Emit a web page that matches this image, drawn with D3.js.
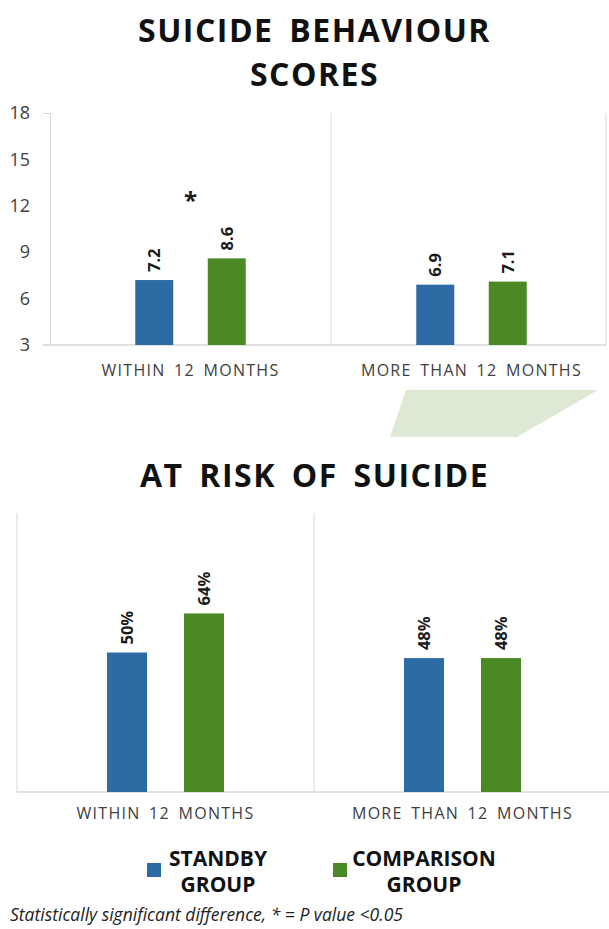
<!DOCTYPE html>
<html>
<head>
<meta charset="utf-8">
<script src="https://cdn.jsdelivr.net/npm/d3@7"></script>
<style>
  html, body { margin: 0; padding: 0; background: #ffffff; }
  svg { display: block; }
</style>
</head>
<body>
<svg id="chart" width="609" height="929"></svg>
<script>
// Periods compared and the two groups
const periods = ["WITHIN 12 MONTHS", "MORE THAN 12 MONTHS"];
const groups = ["STANDBY", "COMPARISON"];
const groupColors = ["#2e6ba5", "#4a8924"];

// Suicide behaviour scores by period
const scoreStandby = [7.2, 6.9];
const scoreComparison = [8.6, 7.1];
const scoreSignificant = [true, false];
const scoreTicks = [3, 6, 9, 12, 15, 18];

// Share at risk of suicide (%) by period
const riskStandby = [50, 48];
const riskComparison = [64, 48];

const svg = d3.select("#chart");
const W = 609;
const titleFont = "'Open Sans', 'Noto Sans', sans-serif";
const axisGrey = "#d9d9d9";
const labelColor = "#404040";

function title(lines, y0, lineH) {
  const t = svg.append("text")
    .attr("text-anchor", "middle")
    .attr("font-family", titleFont)
    .attr("font-weight", 700)
    .attr("font-size", 32)
    .attr("letter-spacing", 1.5)
    .attr("word-spacing", 6)
    .attr("fill", "#111");
  lines.forEach((l, i) => t.append("tspan").attr("x", W / 2 + 10).attr("y", y0 + i * lineH).text(l));
}

function valueLabels(g, data, x, xs, y, fmt) {
  g.selectAll(null).data(data).join("text")
    .attr("transform", d => `translate(${x(d.period) + xs(d.group) + xs.bandwidth() / 2},${y(d.value) - 8}) rotate(-90)`)
    .attr("dy", "0.36em")
    .attr("text-anchor", "start")
    .attr("font-family", titleFont)
    .attr("font-weight", 700)
    .attr("font-size", 16.5)
    .attr("fill", "#1a1a1a")
    .text(d => fmt(d.value));
}

function bars(g, data, x, xs, y) {
  g.selectAll(null).data(data).join("rect")
    .attr("x", d => x(d.period) + xs(d.group))
    .attr("width", xs.bandwidth())
    .attr("y", d => y(d.value))
    .attr("height", d => y.range()[0] - y(d.value))
    .attr("fill", d => groupColors[groups.indexOf(d.group)]);
}

function categoryLabels(g, x, yPos) {
  g.selectAll(null).data(periods).join("text")
    .attr("x", d => x(d) + x.bandwidth() / 2)
    .attr("y", yPos)
    .attr("text-anchor", "middle")
    .attr("font-family", titleFont)
    .attr("font-size", 16)
    .attr("letter-spacing", 1.3)
    .attr("word-spacing", 3)
    .attr("fill", labelColor)
    .text(d => d);
}

function rows(a, b) {
  return periods.flatMap((p, i) => [
    { period: p, group: groups[0], value: a[i] },
    { period: p, group: groups[1], value: b[i] }
  ]);
}

/* ---------- Suicide behaviour scores ---------- */
title(["SUICIDE  BEHAVIOUR", "SCORES"], 42, 44);

const scoreG = svg.append("g");
const x1 = d3.scaleBand().domain(periods).range([50, 612]);
const y1 = d3.scaleLinear().domain([3, 18]).range([345, 113]);
const xs1 = d3.scaleBand().domain(groups)
  .range([x1.bandwidth() / 2 - 72.5, x1.bandwidth() / 2 + 72.5])
  .paddingInner(0.476).paddingOuter(0.238);

// panel frame: separators between periods and right edge
scoreG.selectAll(null).data(periods.slice(1)).join("line")
  .attr("x1", d => x1(d)).attr("x2", d => x1(d))
  .attr("y1", y1(18)).attr("y2", y1(3))
  .attr("stroke", axisGrey);
scoreG.append("line")
  .attr("x1", 606).attr("x2", 606).attr("y1", y1(18)).attr("y2", y1(3))
  .attr("stroke", axisGrey);
scoreG.append("line")
  .attr("x1", 43).attr("x2", 607).attr("y1", y1(3)).attr("y2", y1(3))
  .attr("stroke", axisGrey).attr("stroke-width", 1.5);

const yAxis = scoreG.append("g")
  .attr("transform", "translate(50,0)")
  .call(d3.axisLeft(y1).tickValues(scoreTicks).tickSizeInner(0).tickSizeOuter(7).tickPadding(20));
yAxis.select(".domain").attr("stroke", axisGrey);
yAxis.selectAll("text")
  .attr("font-family", titleFont)
  .attr("font-size", 18)
  .attr("fill", labelColor);

const d1 = rows(scoreStandby, scoreComparison);
bars(scoreG, d1, x1, xs1, y1);
valueLabels(scoreG, d1, x1, xs1, y1, d => d.toFixed(1));

// significance marker above the pair
scoreG.selectAll(null).data(periods.filter((p, i) => scoreSignificant[i])).join("text")
  .attr("x", d => x1(d) + x1.bandwidth() / 2)
  .attr("y", y1(11.8))
  .attr("text-anchor", "middle")
  .attr("font-family", titleFont)
  .attr("font-weight", 700)
  .attr("font-size", 24)
  .attr("fill", "#1a1a1a")
  .text("*");

categoryLabels(scoreG, x1, 376);

// pale green ribbon under the right panel
const rib = x1(periods[1]);
svg.append("path")
  .attr("d", `M${rib + 75},390 L${rib + 267},390 L${rib + 186},437 L${rib + 59},437 Z`)
  .attr("fill", "#dde9d4");

/* ---------- At risk of suicide ---------- */
title(["AT  RISK  OF  SUICIDE"], 487, 0);

const riskG = svg.append("g");
const x2 = d3.scaleBand().domain(periods).range([17, 611]);
const y2 = d3.scaleLinear().domain([0, 100]).range([792, 513]);
const xs2 = d3.scaleBand().domain(groups)
  .range([x2.bandwidth() / 2 - 77, x2.bandwidth() / 2 + 77])
  .paddingInner(0.48).paddingOuter(0.24);

riskG.selectAll(null).data(periods).join("line")
  .attr("x1", d => x2(d)).attr("x2", d => x2(d))
  .attr("y1", y2(100)).attr("y2", y2(0))
  .attr("stroke", axisGrey);
riskG.append("line")
  .attr("x1", 17).attr("x2", 609).attr("y1", y2(0)).attr("y2", y2(0))
  .attr("stroke", axisGrey).attr("stroke-width", 1.5);

const d2 = rows(riskStandby, riskComparison);
bars(riskG, d2, x2, xs2, y2);
valueLabels(riskG, d2, x2, xs2, y2, d => d + "%");
categoryLabels(riskG, x2, 819);

/* ---------- Legend ---------- */
const legendItems = [
  { color: groupColors[0], lines: ["STANDBY", "GROUP"], sq: 147, tx: 218 },
  { color: groupColors[1], lines: ["COMPARISON", "GROUP"], sq: 333, tx: 424 }
];
const lg = svg.append("g");
legendItems.forEach(it => {
  lg.append("rect").attr("x", it.sq).attr("y", 863).attr("width", 14).attr("height", 14).attr("fill", it.color);
  const t = lg.append("text")
    .attr("text-anchor", "middle")
    .attr("font-family", titleFont)
    .attr("font-weight", 700)
    .attr("font-size", 21)
    .attr("fill", "#111");
  it.lines.forEach((l, i) => t.append("tspan").attr("x", it.tx).attr("y", 866 + i * 26).text(l));
});

svg.append("text")
  .attr("x", 10).attr("y", 921)
  .attr("font-family", titleFont)
  .attr("font-style", "italic")
  .attr("font-size", 17.5)
  .attr("fill", "#222")
  .text("Statistically significant difference, * = P value <0.05");
</script>
</body>
</html>
